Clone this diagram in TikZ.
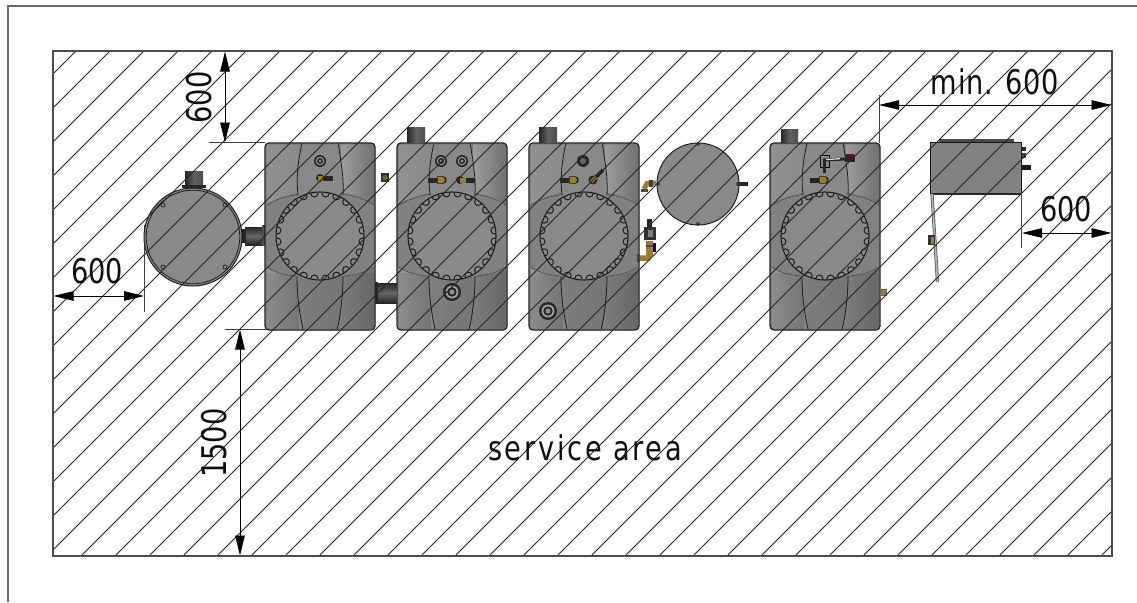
\documentclass[tikz,border=0pt]{standalone}
\usepackage{fontspec}
\usetikzlibrary{arrows.meta}
\newfontfamily\dimfont{DejaVu Sans}
\newfontfamily\dimwide[LetterSpace=10]{DejaVu Sans}
\newfontfamily\dimmin[LetterSpace=3]{DejaVu Sans}
\definecolor{steel}{HTML}{888A8A}
\definecolor{steeld}{HTML}{6E7070}
\definecolor{steell}{HTML}{9C9E9E}
\definecolor{brass}{HTML}{9E7C2E}
\definecolor{edge}{HTML}{1E1E1E}
\definecolor{frameg}{HTML}{6A6A6A}
\tikzset{
  x=1pt,y=-1pt,
  hatchline/.style={line width=.75pt,color=black!85},
  framel/.style={line width=1.3pt,color=frameg},
  arealine/.style={line width=1.1pt,color=black!70},
  dimline/.style={line width=.9pt,color=black,{Triangle[length=20pt,width=9.5pt]}-{Triangle[length=20pt,width=9.5pt]}},
  extline/.style={line width=.9pt,color=black!75},
  dimtext/.style={inner sep=0pt,text=black!95,font=\fontsize{34}{34}\dimfont},
  tankline/.style={line width=.8pt,color=edge},
  stub/.style={left color=black!85,right color=black!70,middle color=black!62,draw=none},
  hstub/.style={top color=black!85,bottom color=black!85,middle color=black!60,draw=none},
  tail/.style={fill=black!85,draw=none},
  brassp/.style={fill=brass,draw=black!75,line width=.5pt},
}
\newcommand{\portring}[3]{% x y r
  \fill[black!85] (#1,#2) circle[radius=#3];
  \fill[steel!80] (#1,#2) circle[radius=#3*.72];
  \fill[black!85] (#1,#2) circle[radius=#3*.52];
  \fill[steel!95!white] (#1,#2) circle[radius=#3*.28];
}
\newcommand{\tankbody}[1]{%
\begin{scope}[shift={(#1,143)}]
  \begin{scope}
    \clip[rounded corners=4pt] (0,0) rectangle (110,187);
    \fill[left color=steell!70!steel,right color=steeld] (0,0) rectangle (110,187);
    \fill[left color=steell,right color=steeld] (76,0) rectangle (110,55);
    \fill[left color=steel!60!steell,right color=steel] (0,0) rectangle (38,55);
    \fill[left color=steel!80!steell,right color=steel!85!black] (0,130) rectangle (34,187);
    \fill[left color=steel!90!black,right color=steeld!92!black] (76,130) rectangle (110,187);
    % ears
    \fill[steel!94!black] (0,62) .. controls (12,54) and (22,52) .. (34,50) -- (78,50)
        .. controls (90,52) and (102,54) .. (110,62) -- (110,124)
        .. controls (100,131) and (90,133) .. (78,133) -- (30,133)
        .. controls (18,131) and (8,129) .. (0,124) -- cycle;
    % panels
    \fill[steel] (37,0) .. controls (33,18) and (31,35) .. (33,52) -- (78,52)
        .. controls (79,35) and (76,18) .. (73,0) -- cycle;
    \fill[left color=steel!92!black,right color=steeld!80!steel] (32,133) .. controls (32,155) and (35,172) .. (38,187) -- (72,187)
        .. controls (76,170) and (78,150) .. (78,133) -- cycle;
  \end{scope}
  \draw[tankline] (37,0) .. controls (33,18) and (31,35) .. (33,52);
  \draw[tankline] (73,0) .. controls (76,18) and (79,35) .. (78,52);
  \draw[tankline] (32,133) .. controls (32,155) and (35,172) .. (38,187);
  \draw[tankline] (78,133) .. controls (78,150) and (76,170) .. (72,187);
  \draw[line width=.6pt,color=edge!80] (2,62) .. controls (12,56) and (22,53) .. (34,51);
  \draw[line width=.6pt,color=edge!80] (78,51) .. controls (90,53) and (100,56) .. (109,62);
  \draw[line width=.6pt,color=edge!80] (2,124) .. controls (9,129) and (18,132) .. (31,133);
  \draw[line width=.6pt,color=edge!80] (79,133) .. controls (92,132) and (101,129) .. (108,124);
  % flange
  \fill[steel] (55,93) circle[radius=44];
  \begin{scope}
    \clip (55,93) circle[radius=44];
    \foreach \a in {0,15,...,345}{
      \draw[line width=1pt,color=edge] (55,93) ++(\a+7.5:43) circle[radius=3.6];
    }
  \end{scope}
  \draw[line width=1.1pt,color=edge] (55,93) circle[radius=44];
  \draw[line width=1.3pt,color=edge,rounded corners=4pt] (0,0) rectangle (110,187);
  \draw[line width=.5pt,color=steeld,rounded corners=3pt] (1,1) rectangle (109,186);
\end{scope}}
\newcommand{\fittingL}[2]{% brass at x,y with black tail left
  \fill[tail] (#1-12,#2-2.5) rectangle (#1-2,#2+2.5);
  \fill[black!85] (#1+3,#2) circle[radius=3.8];
  \fill[brassp] (#1-3,#2-3.5) rectangle (#1+3,#2+3.5);
  \fill[brass] (#1+2,#2) circle[radius=3];
}
\newcommand{\fittingR}[2]{%
  \fill[tail] (#1+2,#2-2.5) rectangle (#1+13,#2+2.5);
  \fill[black!85] (#1-2,#2) circle[radius=4];
  \fill[brass] (#1-2,#2-2.5) rectangle (#1+4,#2+2.5);
}
\begin{document}
\begin{tikzpicture}
\useasboundingbox (0,0) rectangle (1137,602);
\fill[white] (0,0) rectangle (1137,602);
% outer frame
\coordinate (frameA) at (8,602);
\coordinate (frameB) at (8,6);
\coordinate (frameC) at (1137,6);
\draw[framel] (frameA) -- (frameB) -- (frameC);

% left round vessel
\fill[stub] (185,171) rectangle (203,186);
\fill[black!85] (182,185) rectangle (206,188);
\fill[hstub] (245,227) rectangle (263,245);
\fill[black!85] (241,229) rectangle (246,243);
\fill[black!70] (262,225) rectangle (265,246);
\fill[black!80] (143.5,225) rectangle (147,247);
\fill[steel,draw=edge,line width=1pt] (193,237) circle[radius=49];
\draw[line width=.8pt,color=edge] (193,237) circle[radius=46.8];
\foreach \px/\py in {163/205,225/205,163/267,225/267}
  \draw[line width=.7pt,color=edge] (\px,\py) circle[radius=2];

% tanks
\tankbody{265}
\tankbody{397}
\tankbody{529}
\tankbody{770}

% top stubs
\fill[stub] (407,127) rectangle (425,142.5);
\fill[stub] (539,127) rectangle (557,142.5);
\fill[stub] (781,129) rectangle (798,142.5);

% stub T1-T2
\fill[hstub] (377,283) rectangle (397,303);
\fill[black!85] (375,282) rectangle (378,304);

% ports
\portring{320}{161}{6}
\portring{441}{161}{6}
\portring{462}{161}{6}
\fill[black!85] (583,161) circle[radius=6];
\fill[black!60] (583,161) circle[radius=3];
\portring{452}{292}{9}
\portring{548}{311}{9}

% T1 fittings
\fill[tail] (322,175.5) rectangle (333,180.5);
\fill[black!85] (320,178) circle[radius=4];
\fill[brass] (318,175.5) rectangle (323,180.5);
\fill[black!80] (381,173) rectangle (389,182);
\fill[brass!80!black] (385,177.5) circle[radius=2.5];

% T2 fittings
\fittingL{440}{180}
\fittingR{462}{180}

% T3 fittings
\fittingL{572}{180}
\fill[black!85] (593,180) circle[radius=4.5];
\draw[line width=3.8pt,color=black!85] (595,178) -- (603,170);
\draw[line width=3.5pt,color=brass] (591,182) -- (596,177);

% small round vessel
\fill[steel,draw=edge,line width=1pt] (698,184) circle[radius=41];
\foreach \px/\py in {698/144,698/224,658/184,738/184}
  \draw[line width=.6pt,color=edge] (\px,\py) circle[radius=1.6];
\fill[black!85] (739,181.5) rectangle (748,186);
% elbow at left of small vessel
\draw[line width=5pt,color=brass] (656,183) -- (647,183.5) -- (644,189);
\fill[black!75] (649,179.5) rectangle (653,187);
\fill[black!70] (641,188.5) rectangle (648,191.5);
% valve
\fill[black!85] (647,219) rectangle (652,228);
\fill[black!80] (644,227) rectangle (656,240);
\fill[black!50] (648,230) rectangle (653,237);
\fill[blue!50!black] (652,243) rectangle (656,252);
\fill[brass] (646,241) rectangle (653,256);
\fill[black!70] (646,245) rectangle (653,247);
\draw[line width=5.5pt,color=brass] (650,253) -- (648,258) -- (640,258);
\fill[black!75] (637,253.5) rectangle (640,262);

% T4 fittings
\draw[line width=.8pt,color=black] (820,155) rectangle (829,167);
\draw[line width=3pt,color=black!85] (823,160) -- (845,159);
\draw[line width=1.3pt,color=black!15] (826,159.5) -- (840,158.7);
\draw[line width=3pt,color=black!85] (824,160) -- (824,173);
\fill[black!85] (845,155) rectangle (855,162);
\fill[red!55!black] (846,153.5) rectangle (854,156);
\fittingL{822}{180}
\fill[brass] (880.5,289) rectangle (886,295);
\draw[line width=.4pt,color=black!60] (880.5,289) rectangle (886,295);

% right box
\fill[black!70] (939,139) rectangle (1014,142);
\fill[black!85] (1022,147) rectangle (1026,151);
\fill[black!75] (1022,153) rectangle (1026,158);
\fill[black!90] (1022,165) rectangle (1031,170);
\fill[steel!95!black,draw=black!90,line width=1pt] (930.5,142) rectangle (1021.5,193);
\fill[black!85] (930.5,193) rectangle (1021.5,194.5);
\draw[line width=3.2pt,color=black!65] (932,194) -- (937.5,282);
\draw[line width=1.6pt,color=steeld!50!white] (932,194) -- (937.5,282);
\fill[black!80] (928,235) rectangle (935,245);
\fill[brass] (931,236.5) rectangle (933.5,244);

% hatching
\begin{scope}
  \clip (53,51) rectangle (1112,556);
  \foreach \k in {0,...,46}{
    \pgfmathsetmacro{\cc}{127+34*\k}
    \draw[hatchline] (\cc-40,40) -- (\cc-570,570);
  }
\end{scope}
\draw[arealine] (53,51) rectangle (1112,556);

% dimension anchors
\coordinate (vaTop) at (225,51.5);
\coordinate (vaBot) at (225,142.5);
\coordinate (vaExt) at (209,142.5);
\coordinate (vaExtEnd) at (265,142.5);
\coordinate (vbTop) at (240,329.5);
\coordinate (vbBot) at (240,555.5);
\coordinate (vbExt) at (225,329.5);
\coordinate (vbExtEnd) at (266,329.5);
\coordinate (haL) at (53.5,296);
\coordinate (haR) at (144,296);
\coordinate (haExtT) at (144,247);
\coordinate (haExtB) at (144,312);
\coordinate (hbL) at (879,105);
\coordinate (hbR) at (1111.5,105);
\coordinate (hbExtT) at (879,95);
\coordinate (hbExtB) at (879,143);
\coordinate (hcL) at (1022,233);
\coordinate (hcR) at (1111.5,233);
\coordinate (hcExtT) at (1021.5,193);
\coordinate (hcExtB) at (1021.5,248);

\draw[extline] (vaExt) -- (vaExtEnd);
\draw[extline] (vbExt) -- (vbExtEnd);
\draw[extline] (haExtT) -- (haExtB);
\draw[extline] (hbExtT) -- (hbExtB);
\draw[extline] (hcExtT) -- (hcExtB);
\draw[dimline] (vaTop) -- (vaBot);
\draw[dimline] (vbTop) -- (vbBot);
\draw[dimline] (haL) -- (haR);
\draw[dimline] (hbL) -- (hbR);
\draw[dimline] (hcL) -- (hcR);

% labels
\node[dimtext,rotate=90] (lblA) at (199.5,97.5) {\scalebox{.8}[1]{600}};
\node[dimtext,rotate=90] (lblB) at (214.5,443) {\scalebox{.8}[1]{1500}};
\node[dimtext] (lblC) at (97,271) {\scalebox{.8}[1]{600}};
\node[dimtext] (lblD) at (995,82) {\scalebox{.8}[1]{\dimmin min. 600}};
\node[dimtext] (lblE) at (1066,209.5) {\scalebox{.8}[1]{600}};
\node[dimtext] (lblF) at (585,448) {\scalebox{.8}[1]{\dimwide service area}};
\end{tikzpicture}
\end{document}
